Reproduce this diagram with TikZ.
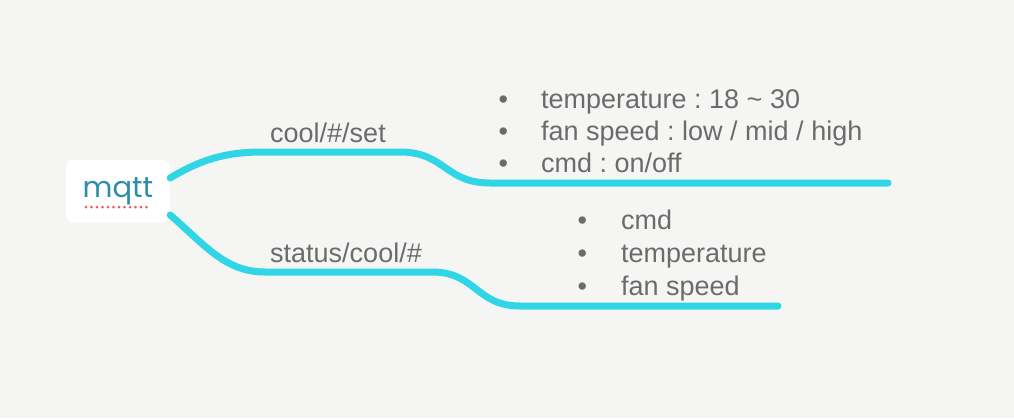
\documentclass[tikz,border=0pt]{standalone}
\usepackage{fontspec}
\setmainfont{Liberation Sans}
\newfontfamily\rootfont{Poppins}
\usepackage{xcolor}
\usetikzlibrary{positioning}
\definecolor{bgcol}{HTML}{F5F6F4}
\definecolor{branchcol}{HTML}{31D6E6}
\definecolor{txtcol}{HTML}{6B6B6B}
\definecolor{rootcol}{HTML}{2B8EA8}
\definecolor{spellcol}{HTML}{EF5B5B}
\frenchspacing

\begin{document}
\begin{tikzpicture}[x=1pt,y=-1pt,
  every node/.style={font=\fontsize{27}{32}\selectfont,text=txtcol},
  rootbox/.style={fill=white,rounded corners=8pt,minimum width=104pt,minimum height=63pt,
    text=rootcol,font=\rootfont\fontsize{29}{32}\selectfont},
  branch/.style={draw=branchcol,line width=7pt,line cap=round},
  topic/.style={anchor=base west,inner sep=0pt},
  item/.style={anchor=base west,inner sep=0pt}]
\fill[bgcol] (0,0) rectangle (1014,418);
\node[rootbox] (mqtt) at (118,191) {\raisebox{-3pt}{mqtt}};
\draw[spellcol,line width=3pt,line cap=round,dash pattern=on 0pt off 5.5pt] (86,207) -- (149,207);
% branch points
\coordinate (coolA) at (400,152);
\coordinate (coolB) at (490,183);
\coordinate (coolEnd) at (888,183);
\coordinate (statA) at (432,272);
\coordinate (statB) at (520,306);
\coordinate (statEnd) at (778,306);
\draw[branch] ([yshift=13pt]mqtt.east) .. controls (200,160) and (225,152) .. (262,152) -- (coolA)
  .. controls (445,152) and (445,183) .. (coolB) -- (coolEnd);
\draw[branch] ([yshift=-24pt]mqtt.east) .. controls (205,245) and (225,272) .. (265,272) -- (statA)
  .. controls (476,272) and (476,306) .. (statB) -- (statEnd);
\node[topic] (cool) at (270,142) {cool/\#/set};
\node[topic] (status) at (270,262) {status/cool/\#};
\foreach \t [count=\i] in {temperature : 18 \textasciitilde{} 30,fan speed : low / mid / high,cmd : on/off}
  \node[item] (up-\i) at (498.5,76+32*\i) {\textbullet\hspace{33pt}\t};
\foreach \t [count=\i] in {cmd,temperature,fan speed}
  \node[item] (dn-\i) at (577.5,196+33*\i) {\textbullet\hspace{34pt}\t};
\end{tikzpicture}
\end{document}
